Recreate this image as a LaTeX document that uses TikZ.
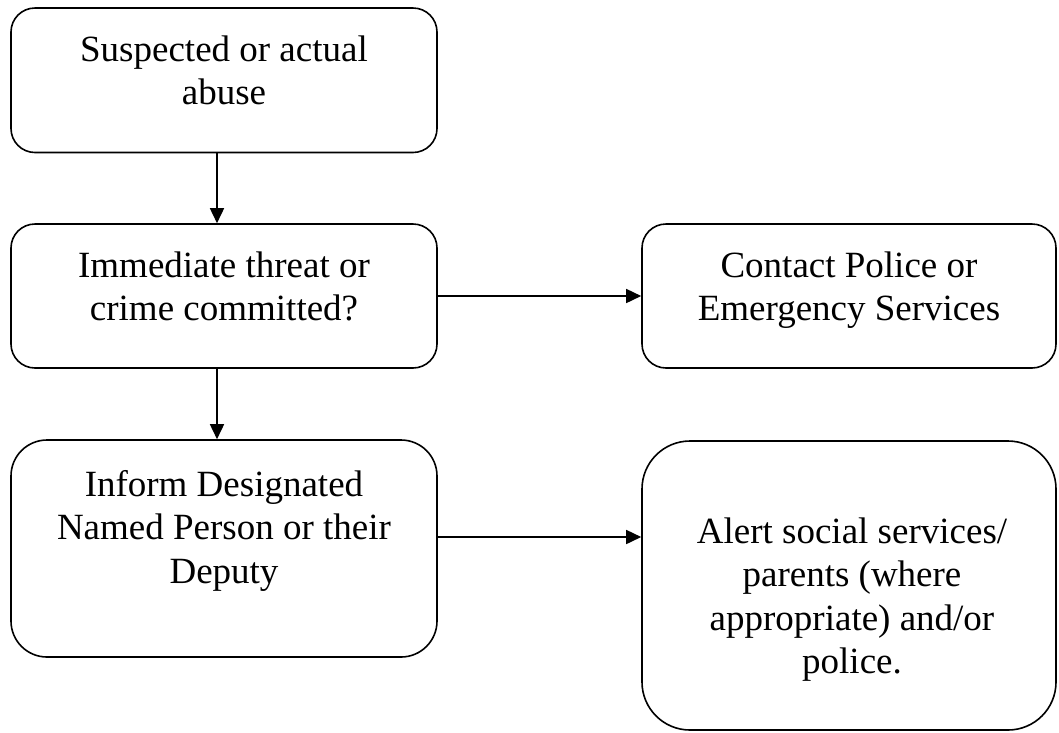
\documentclass[tikz,border=0pt]{standalone}
\usepackage{fontspec}
\setmainfont{Liberation Serif}
\usetikzlibrary{arrows.meta}
\tikzset{
  boxnode/.style={draw=black, line width=1.6pt, rectangle, inner sep=0pt, fill=none},
  txt/.style={text width=410pt, align=flush center, anchor=base, inner sep=0pt,
    font=\fontsize{37}{43.5}\selectfont},
  conn/.style={line width=1.6pt, -{Triangle[length=15pt,width=14pt]}}
}
\begin{document}
\begin{tikzpicture}[x=1pt, y=-1pt]
\useasboundingbox[fill=white] (0,0) rectangle (1059,732);
% boxes
\node[boxnode, rounded corners=24pt, minimum width=426pt, minimum height=144.5pt] (b1) at (224,80.25) {};
\node[boxnode, rounded corners=24pt, minimum width=426pt, minimum height=144pt] (b2) at (224,296) {};
\node[boxnode, rounded corners=36pt, minimum width=426pt, minimum height=217pt] (b3) at (224,548.5) {};
\node[boxnode, rounded corners=24pt, minimum width=414pt, minimum height=144pt] (b4) at (849,296) {};
\node[boxnode, rounded corners=48pt, minimum width=414pt, minimum height=289pt] (b5) at (849,585.5) {};
% texts
\node[txt] (t1) at (224,61) {Suspected or actual\\abuse};
\node[txt] (t2) at (224,277) {Immediate threat or\\crime committed?};
\node[txt] (t3) at (224,496) {Inform Designated\\Named Person or their\\Deputy};
\node[txt] (t4) at (849,277) {Contact Police or\\Emergency Services};
\node[txt] (t5) at (852,543) {Alert social services/\\parents (where\\appropriate) and/or\\police.};
% connectors
\draw[conn] ([xshift=-7pt]b1.south) -- ([xshift=-7pt]b2.north);
\draw[conn] ([xshift=-7pt]b2.south) -- ([xshift=-7pt]b3.north);
\draw[conn] (b2.east) -- (b4.west);
\coordinate (a2) at ([yshift=11.5pt]b3.east);
\draw[conn] (a2) -- (a2 -| b5.west);
\end{tikzpicture}
\end{document}
